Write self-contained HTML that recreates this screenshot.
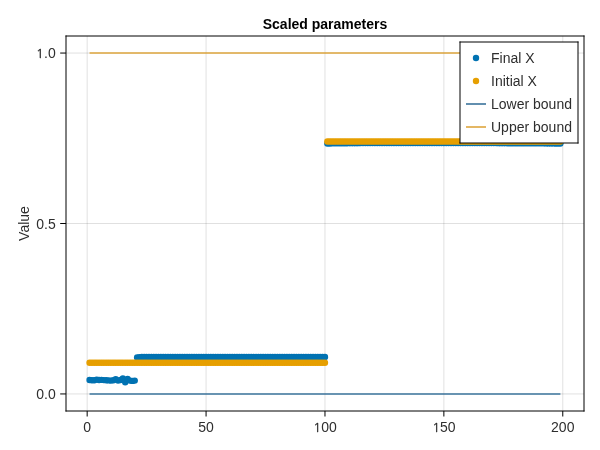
<!DOCTYPE html>
<html><head><meta charset="utf-8"><title>Scaled parameters</title>
<style>html,body{margin:0;padding:0;background:#fff;}svg{display:block;will-change:transform;}</style>
</head><body>
<svg width="600" height="450" viewBox="0 0 600 450">
<rect width="600" height="450" fill="#fff"/>
<g stroke="#000" stroke-opacity="0.12" stroke-width="1"><line x1="87.17" y1="36" x2="87.17" y2="411"/><line x1="206.07" y1="36" x2="206.07" y2="411"/><line x1="324.97" y1="36" x2="324.97" y2="411"/><line x1="443.87" y1="36" x2="443.87" y2="411"/><line x1="562.77" y1="36" x2="562.77" y2="411"/><line x1="66" y1="393.95" x2="584" y2="393.95"/><line x1="66" y1="223.50" x2="584" y2="223.50"/><line x1="66" y1="53.05" x2="584" y2="53.05"/></g>
<line x1="89.55" y1="393.95" x2="560.39" y2="393.95" stroke="#3b749c" stroke-width="1.6"/><line x1="89.55" y1="53.05" x2="560.39" y2="53.05" stroke="#dea63e" stroke-width="1.6"/>
<g fill="#0072B2"><circle cx="89.55" cy="380.00" r="3.2"/><circle cx="91.93" cy="380.20" r="3.2"/><circle cx="94.30" cy="380.30" r="3.2"/><circle cx="96.68" cy="379.60" r="3.2"/><circle cx="99.06" cy="380.00" r="3.2"/><circle cx="101.44" cy="379.90" r="3.2"/><circle cx="103.82" cy="380.10" r="3.2"/><circle cx="106.19" cy="380.30" r="3.2"/><circle cx="108.57" cy="380.40" r="3.2"/><circle cx="110.95" cy="380.60" r="3.2"/><circle cx="113.33" cy="380.20" r="3.2"/><circle cx="115.71" cy="379.30" r="3.2"/><circle cx="118.08" cy="380.60" r="3.2"/><circle cx="120.46" cy="380.00" r="3.2"/><circle cx="122.84" cy="378.50" r="3.2"/><circle cx="125.22" cy="382.20" r="3.2"/><circle cx="127.60" cy="379.00" r="3.2"/><circle cx="129.97" cy="380.60" r="3.2"/><circle cx="132.35" cy="380.90" r="3.2"/><circle cx="134.73" cy="380.60" r="3.2"/><circle cx="137.11" cy="357.40" r="3.2"/><circle cx="139.49" cy="357.10" r="3.2"/><circle cx="141.86" cy="356.90" r="3.2"/><circle cx="144.24" cy="356.90" r="3.2"/><circle cx="146.62" cy="356.90" r="3.2"/><circle cx="149.00" cy="356.90" r="3.2"/><circle cx="151.38" cy="356.90" r="3.2"/><circle cx="153.75" cy="356.90" r="3.2"/><circle cx="156.13" cy="356.90" r="3.2"/><circle cx="158.51" cy="356.90" r="3.2"/><circle cx="160.89" cy="356.90" r="3.2"/><circle cx="163.27" cy="356.90" r="3.2"/><circle cx="165.64" cy="356.90" r="3.2"/><circle cx="168.02" cy="356.90" r="3.2"/><circle cx="170.40" cy="356.90" r="3.2"/><circle cx="172.78" cy="356.90" r="3.2"/><circle cx="175.16" cy="356.90" r="3.2"/><circle cx="177.53" cy="356.90" r="3.2"/><circle cx="179.91" cy="356.90" r="3.2"/><circle cx="182.29" cy="356.90" r="3.2"/><circle cx="184.67" cy="356.90" r="3.2"/><circle cx="187.05" cy="356.90" r="3.2"/><circle cx="189.42" cy="356.90" r="3.2"/><circle cx="191.80" cy="356.90" r="3.2"/><circle cx="194.18" cy="356.90" r="3.2"/><circle cx="196.56" cy="356.90" r="3.2"/><circle cx="198.94" cy="356.90" r="3.2"/><circle cx="201.31" cy="356.90" r="3.2"/><circle cx="203.69" cy="356.90" r="3.2"/><circle cx="206.07" cy="356.90" r="3.2"/><circle cx="208.45" cy="356.90" r="3.2"/><circle cx="210.83" cy="356.90" r="3.2"/><circle cx="213.20" cy="356.90" r="3.2"/><circle cx="215.58" cy="356.90" r="3.2"/><circle cx="217.96" cy="356.90" r="3.2"/><circle cx="220.34" cy="356.90" r="3.2"/><circle cx="222.72" cy="356.90" r="3.2"/><circle cx="225.09" cy="356.90" r="3.2"/><circle cx="227.47" cy="356.90" r="3.2"/><circle cx="229.85" cy="356.90" r="3.2"/><circle cx="232.23" cy="356.90" r="3.2"/><circle cx="234.61" cy="356.90" r="3.2"/><circle cx="236.98" cy="356.90" r="3.2"/><circle cx="239.36" cy="356.90" r="3.2"/><circle cx="241.74" cy="356.90" r="3.2"/><circle cx="244.12" cy="356.90" r="3.2"/><circle cx="246.50" cy="356.90" r="3.2"/><circle cx="248.87" cy="356.90" r="3.2"/><circle cx="251.25" cy="356.90" r="3.2"/><circle cx="253.63" cy="356.90" r="3.2"/><circle cx="256.01" cy="356.90" r="3.2"/><circle cx="258.39" cy="356.90" r="3.2"/><circle cx="260.76" cy="356.90" r="3.2"/><circle cx="263.14" cy="356.90" r="3.2"/><circle cx="265.52" cy="356.90" r="3.2"/><circle cx="267.90" cy="356.90" r="3.2"/><circle cx="270.28" cy="356.90" r="3.2"/><circle cx="272.65" cy="356.90" r="3.2"/><circle cx="275.03" cy="356.90" r="3.2"/><circle cx="277.41" cy="356.90" r="3.2"/><circle cx="279.79" cy="356.90" r="3.2"/><circle cx="282.17" cy="356.90" r="3.2"/><circle cx="284.54" cy="356.90" r="3.2"/><circle cx="286.92" cy="356.90" r="3.2"/><circle cx="289.30" cy="356.90" r="3.2"/><circle cx="291.68" cy="356.90" r="3.2"/><circle cx="294.06" cy="356.90" r="3.2"/><circle cx="296.43" cy="356.90" r="3.2"/><circle cx="298.81" cy="356.90" r="3.2"/><circle cx="301.19" cy="356.90" r="3.2"/><circle cx="303.57" cy="356.90" r="3.2"/><circle cx="305.95" cy="356.90" r="3.2"/><circle cx="308.32" cy="356.90" r="3.2"/><circle cx="310.70" cy="356.90" r="3.2"/><circle cx="313.08" cy="356.90" r="3.2"/><circle cx="315.46" cy="356.90" r="3.2"/><circle cx="317.84" cy="356.90" r="3.2"/><circle cx="320.21" cy="356.90" r="3.2"/><circle cx="322.59" cy="356.90" r="3.2"/><circle cx="324.97" cy="356.90" r="3.2"/><circle cx="327.35" cy="143.50" r="3.2"/><circle cx="329.73" cy="143.43" r="3.2"/><circle cx="332.10" cy="143.37" r="3.2"/><circle cx="334.48" cy="143.32" r="3.2"/><circle cx="336.86" cy="143.28" r="3.2"/><circle cx="339.24" cy="143.25" r="3.2"/><circle cx="341.62" cy="143.22" r="3.2"/><circle cx="343.99" cy="143.20" r="3.2"/><circle cx="346.37" cy="143.18" r="3.2"/><circle cx="348.75" cy="143.17" r="3.2"/><circle cx="351.13" cy="143.15" r="3.2"/><circle cx="353.51" cy="143.14" r="3.2"/><circle cx="355.88" cy="143.14" r="3.2"/><circle cx="358.26" cy="143.13" r="3.2"/><circle cx="360.64" cy="143.12" r="3.2"/><circle cx="363.02" cy="143.12" r="3.2"/><circle cx="365.40" cy="143.12" r="3.2"/><circle cx="367.77" cy="143.11" r="3.2"/><circle cx="370.15" cy="143.11" r="3.2"/><circle cx="372.53" cy="143.11" r="3.2"/><circle cx="374.91" cy="143.11" r="3.2"/><circle cx="377.29" cy="143.11" r="3.2"/><circle cx="379.66" cy="143.10" r="3.2"/><circle cx="382.04" cy="143.10" r="3.2"/><circle cx="384.42" cy="143.10" r="3.2"/><circle cx="386.80" cy="143.10" r="3.2"/><circle cx="389.18" cy="143.10" r="3.2"/><circle cx="391.55" cy="143.10" r="3.2"/><circle cx="393.93" cy="143.10" r="3.2"/><circle cx="396.31" cy="143.10" r="3.2"/><circle cx="398.69" cy="143.10" r="3.2"/><circle cx="401.07" cy="143.10" r="3.2"/><circle cx="403.44" cy="143.10" r="3.2"/><circle cx="405.82" cy="143.10" r="3.2"/><circle cx="408.20" cy="143.10" r="3.2"/><circle cx="410.58" cy="143.10" r="3.2"/><circle cx="412.96" cy="143.10" r="3.2"/><circle cx="415.33" cy="143.10" r="3.2"/><circle cx="417.71" cy="143.10" r="3.2"/><circle cx="420.09" cy="143.10" r="3.2"/><circle cx="422.47" cy="143.10" r="3.2"/><circle cx="424.85" cy="143.10" r="3.2"/><circle cx="427.22" cy="143.10" r="3.2"/><circle cx="429.60" cy="143.10" r="3.2"/><circle cx="431.98" cy="143.10" r="3.2"/><circle cx="434.36" cy="143.10" r="3.2"/><circle cx="436.74" cy="143.10" r="3.2"/><circle cx="439.11" cy="143.10" r="3.2"/><circle cx="441.49" cy="143.10" r="3.2"/><circle cx="443.87" cy="143.10" r="3.2"/><circle cx="446.25" cy="143.10" r="3.2"/><circle cx="448.63" cy="143.10" r="3.2"/><circle cx="451.00" cy="143.10" r="3.2"/><circle cx="453.38" cy="143.10" r="3.2"/><circle cx="455.76" cy="143.10" r="3.2"/><circle cx="458.14" cy="143.10" r="3.2"/><circle cx="460.52" cy="143.10" r="3.2"/><circle cx="462.89" cy="143.10" r="3.2"/><circle cx="465.27" cy="143.10" r="3.2"/><circle cx="467.65" cy="143.10" r="3.2"/><circle cx="470.03" cy="143.10" r="3.2"/><circle cx="472.41" cy="143.10" r="3.2"/><circle cx="474.78" cy="143.10" r="3.2"/><circle cx="477.16" cy="143.10" r="3.2"/><circle cx="479.54" cy="143.10" r="3.2"/><circle cx="481.92" cy="143.10" r="3.2"/><circle cx="484.30" cy="143.10" r="3.2"/><circle cx="486.67" cy="143.10" r="3.2"/><circle cx="489.05" cy="143.10" r="3.2"/><circle cx="491.43" cy="143.10" r="3.2"/><circle cx="493.81" cy="143.11" r="3.2"/><circle cx="496.19" cy="143.12" r="3.2"/><circle cx="498.56" cy="143.14" r="3.2"/><circle cx="500.94" cy="143.15" r="3.2"/><circle cx="503.32" cy="143.16" r="3.2"/><circle cx="505.70" cy="143.17" r="3.2"/><circle cx="508.08" cy="143.18" r="3.2"/><circle cx="510.45" cy="143.20" r="3.2"/><circle cx="512.83" cy="143.21" r="3.2"/><circle cx="515.21" cy="143.22" r="3.2"/><circle cx="517.59" cy="143.23" r="3.2"/><circle cx="519.97" cy="143.24" r="3.2"/><circle cx="522.34" cy="143.26" r="3.2"/><circle cx="524.72" cy="143.27" r="3.2"/><circle cx="527.10" cy="143.28" r="3.2"/><circle cx="529.48" cy="143.29" r="3.2"/><circle cx="531.86" cy="143.31" r="3.2"/><circle cx="534.23" cy="143.32" r="3.2"/><circle cx="536.61" cy="143.33" r="3.2"/><circle cx="538.99" cy="143.34" r="3.2"/><circle cx="541.37" cy="143.35" r="3.2"/><circle cx="543.75" cy="143.37" r="3.2"/><circle cx="546.12" cy="143.38" r="3.2"/><circle cx="548.50" cy="143.39" r="3.2"/><circle cx="550.88" cy="143.40" r="3.2"/><circle cx="553.26" cy="143.41" r="3.2"/><circle cx="555.64" cy="143.43" r="3.2"/><circle cx="558.01" cy="143.44" r="3.2"/><circle cx="560.39" cy="143.45" r="3.2"/></g>
<g fill="#E69F00"><circle cx="89.55" cy="362.70" r="3.2"/><circle cx="91.93" cy="362.70" r="3.2"/><circle cx="94.30" cy="362.70" r="3.2"/><circle cx="96.68" cy="362.70" r="3.2"/><circle cx="99.06" cy="362.70" r="3.2"/><circle cx="101.44" cy="362.70" r="3.2"/><circle cx="103.82" cy="362.70" r="3.2"/><circle cx="106.19" cy="362.70" r="3.2"/><circle cx="108.57" cy="362.70" r="3.2"/><circle cx="110.95" cy="362.70" r="3.2"/><circle cx="113.33" cy="362.70" r="3.2"/><circle cx="115.71" cy="362.70" r="3.2"/><circle cx="118.08" cy="362.70" r="3.2"/><circle cx="120.46" cy="362.70" r="3.2"/><circle cx="122.84" cy="362.70" r="3.2"/><circle cx="125.22" cy="362.70" r="3.2"/><circle cx="127.60" cy="362.70" r="3.2"/><circle cx="129.97" cy="362.70" r="3.2"/><circle cx="132.35" cy="362.70" r="3.2"/><circle cx="134.73" cy="362.70" r="3.2"/><circle cx="137.11" cy="362.70" r="3.2"/><circle cx="139.49" cy="362.70" r="3.2"/><circle cx="141.86" cy="362.70" r="3.2"/><circle cx="144.24" cy="362.70" r="3.2"/><circle cx="146.62" cy="362.70" r="3.2"/><circle cx="149.00" cy="362.70" r="3.2"/><circle cx="151.38" cy="362.70" r="3.2"/><circle cx="153.75" cy="362.70" r="3.2"/><circle cx="156.13" cy="362.70" r="3.2"/><circle cx="158.51" cy="362.70" r="3.2"/><circle cx="160.89" cy="362.70" r="3.2"/><circle cx="163.27" cy="362.70" r="3.2"/><circle cx="165.64" cy="362.70" r="3.2"/><circle cx="168.02" cy="362.70" r="3.2"/><circle cx="170.40" cy="362.70" r="3.2"/><circle cx="172.78" cy="362.70" r="3.2"/><circle cx="175.16" cy="362.70" r="3.2"/><circle cx="177.53" cy="362.70" r="3.2"/><circle cx="179.91" cy="362.70" r="3.2"/><circle cx="182.29" cy="362.70" r="3.2"/><circle cx="184.67" cy="362.70" r="3.2"/><circle cx="187.05" cy="362.70" r="3.2"/><circle cx="189.42" cy="362.70" r="3.2"/><circle cx="191.80" cy="362.70" r="3.2"/><circle cx="194.18" cy="362.70" r="3.2"/><circle cx="196.56" cy="362.70" r="3.2"/><circle cx="198.94" cy="362.70" r="3.2"/><circle cx="201.31" cy="362.70" r="3.2"/><circle cx="203.69" cy="362.70" r="3.2"/><circle cx="206.07" cy="362.70" r="3.2"/><circle cx="208.45" cy="362.70" r="3.2"/><circle cx="210.83" cy="362.70" r="3.2"/><circle cx="213.20" cy="362.70" r="3.2"/><circle cx="215.58" cy="362.70" r="3.2"/><circle cx="217.96" cy="362.70" r="3.2"/><circle cx="220.34" cy="362.70" r="3.2"/><circle cx="222.72" cy="362.70" r="3.2"/><circle cx="225.09" cy="362.70" r="3.2"/><circle cx="227.47" cy="362.70" r="3.2"/><circle cx="229.85" cy="362.70" r="3.2"/><circle cx="232.23" cy="362.70" r="3.2"/><circle cx="234.61" cy="362.70" r="3.2"/><circle cx="236.98" cy="362.70" r="3.2"/><circle cx="239.36" cy="362.70" r="3.2"/><circle cx="241.74" cy="362.70" r="3.2"/><circle cx="244.12" cy="362.70" r="3.2"/><circle cx="246.50" cy="362.70" r="3.2"/><circle cx="248.87" cy="362.70" r="3.2"/><circle cx="251.25" cy="362.70" r="3.2"/><circle cx="253.63" cy="362.70" r="3.2"/><circle cx="256.01" cy="362.70" r="3.2"/><circle cx="258.39" cy="362.70" r="3.2"/><circle cx="260.76" cy="362.70" r="3.2"/><circle cx="263.14" cy="362.70" r="3.2"/><circle cx="265.52" cy="362.70" r="3.2"/><circle cx="267.90" cy="362.70" r="3.2"/><circle cx="270.28" cy="362.70" r="3.2"/><circle cx="272.65" cy="362.70" r="3.2"/><circle cx="275.03" cy="362.70" r="3.2"/><circle cx="277.41" cy="362.70" r="3.2"/><circle cx="279.79" cy="362.70" r="3.2"/><circle cx="282.17" cy="362.70" r="3.2"/><circle cx="284.54" cy="362.70" r="3.2"/><circle cx="286.92" cy="362.70" r="3.2"/><circle cx="289.30" cy="362.70" r="3.2"/><circle cx="291.68" cy="362.70" r="3.2"/><circle cx="294.06" cy="362.70" r="3.2"/><circle cx="296.43" cy="362.70" r="3.2"/><circle cx="298.81" cy="362.70" r="3.2"/><circle cx="301.19" cy="362.70" r="3.2"/><circle cx="303.57" cy="362.70" r="3.2"/><circle cx="305.95" cy="362.70" r="3.2"/><circle cx="308.32" cy="362.70" r="3.2"/><circle cx="310.70" cy="362.70" r="3.2"/><circle cx="313.08" cy="362.70" r="3.2"/><circle cx="315.46" cy="362.70" r="3.2"/><circle cx="317.84" cy="362.70" r="3.2"/><circle cx="320.21" cy="362.70" r="3.2"/><circle cx="322.59" cy="362.70" r="3.2"/><circle cx="324.97" cy="362.70" r="3.2"/><circle cx="327.35" cy="141.45" r="3.2"/><circle cx="329.73" cy="141.45" r="3.2"/><circle cx="332.10" cy="141.45" r="3.2"/><circle cx="334.48" cy="141.45" r="3.2"/><circle cx="336.86" cy="141.45" r="3.2"/><circle cx="339.24" cy="141.45" r="3.2"/><circle cx="341.62" cy="141.45" r="3.2"/><circle cx="343.99" cy="141.45" r="3.2"/><circle cx="346.37" cy="141.45" r="3.2"/><circle cx="348.75" cy="141.45" r="3.2"/><circle cx="351.13" cy="141.45" r="3.2"/><circle cx="353.51" cy="141.45" r="3.2"/><circle cx="355.88" cy="141.45" r="3.2"/><circle cx="358.26" cy="141.45" r="3.2"/><circle cx="360.64" cy="141.45" r="3.2"/><circle cx="363.02" cy="141.45" r="3.2"/><circle cx="365.40" cy="141.45" r="3.2"/><circle cx="367.77" cy="141.45" r="3.2"/><circle cx="370.15" cy="141.45" r="3.2"/><circle cx="372.53" cy="141.45" r="3.2"/><circle cx="374.91" cy="141.45" r="3.2"/><circle cx="377.29" cy="141.45" r="3.2"/><circle cx="379.66" cy="141.45" r="3.2"/><circle cx="382.04" cy="141.45" r="3.2"/><circle cx="384.42" cy="141.45" r="3.2"/><circle cx="386.80" cy="141.45" r="3.2"/><circle cx="389.18" cy="141.45" r="3.2"/><circle cx="391.55" cy="141.45" r="3.2"/><circle cx="393.93" cy="141.45" r="3.2"/><circle cx="396.31" cy="141.45" r="3.2"/><circle cx="398.69" cy="141.45" r="3.2"/><circle cx="401.07" cy="141.45" r="3.2"/><circle cx="403.44" cy="141.45" r="3.2"/><circle cx="405.82" cy="141.45" r="3.2"/><circle cx="408.20" cy="141.45" r="3.2"/><circle cx="410.58" cy="141.45" r="3.2"/><circle cx="412.96" cy="141.45" r="3.2"/><circle cx="415.33" cy="141.45" r="3.2"/><circle cx="417.71" cy="141.45" r="3.2"/><circle cx="420.09" cy="141.45" r="3.2"/><circle cx="422.47" cy="141.45" r="3.2"/><circle cx="424.85" cy="141.45" r="3.2"/><circle cx="427.22" cy="141.45" r="3.2"/><circle cx="429.60" cy="141.45" r="3.2"/><circle cx="431.98" cy="141.45" r="3.2"/><circle cx="434.36" cy="141.45" r="3.2"/><circle cx="436.74" cy="141.45" r="3.2"/><circle cx="439.11" cy="141.45" r="3.2"/><circle cx="441.49" cy="141.45" r="3.2"/><circle cx="443.87" cy="141.45" r="3.2"/><circle cx="446.25" cy="141.45" r="3.2"/><circle cx="448.63" cy="141.45" r="3.2"/><circle cx="451.00" cy="141.45" r="3.2"/><circle cx="453.38" cy="141.45" r="3.2"/><circle cx="455.76" cy="141.45" r="3.2"/><circle cx="458.14" cy="141.45" r="3.2"/><circle cx="460.52" cy="141.45" r="3.2"/><circle cx="462.89" cy="141.45" r="3.2"/><circle cx="465.27" cy="141.45" r="3.2"/><circle cx="467.65" cy="141.45" r="3.2"/><circle cx="470.03" cy="141.45" r="3.2"/><circle cx="472.41" cy="141.45" r="3.2"/><circle cx="474.78" cy="141.45" r="3.2"/><circle cx="477.16" cy="141.45" r="3.2"/><circle cx="479.54" cy="141.45" r="3.2"/><circle cx="481.92" cy="141.45" r="3.2"/><circle cx="484.30" cy="141.45" r="3.2"/><circle cx="486.67" cy="141.45" r="3.2"/><circle cx="489.05" cy="141.45" r="3.2"/><circle cx="491.43" cy="141.45" r="3.2"/><circle cx="493.81" cy="141.45" r="3.2"/><circle cx="496.19" cy="141.45" r="3.2"/><circle cx="498.56" cy="141.45" r="3.2"/><circle cx="500.94" cy="141.45" r="3.2"/><circle cx="503.32" cy="141.45" r="3.2"/><circle cx="505.70" cy="141.45" r="3.2"/><circle cx="508.08" cy="141.45" r="3.2"/><circle cx="510.45" cy="141.45" r="3.2"/><circle cx="512.83" cy="141.45" r="3.2"/><circle cx="515.21" cy="141.45" r="3.2"/><circle cx="517.59" cy="141.45" r="3.2"/><circle cx="519.97" cy="141.45" r="3.2"/><circle cx="522.34" cy="141.45" r="3.2"/><circle cx="524.72" cy="141.45" r="3.2"/><circle cx="527.10" cy="141.45" r="3.2"/><circle cx="529.48" cy="141.45" r="3.2"/><circle cx="531.86" cy="141.45" r="3.2"/><circle cx="534.23" cy="141.45" r="3.2"/><circle cx="536.61" cy="141.45" r="3.2"/><circle cx="538.99" cy="141.45" r="3.2"/><circle cx="541.37" cy="141.45" r="3.2"/><circle cx="543.75" cy="141.45" r="3.2"/><circle cx="546.12" cy="141.45" r="3.2"/><circle cx="548.50" cy="141.45" r="3.2"/><circle cx="550.88" cy="141.45" r="3.2"/><circle cx="553.26" cy="141.45" r="3.2"/><circle cx="555.64" cy="141.45" r="3.2"/><circle cx="558.01" cy="141.45" r="3.2"/><circle cx="560.39" cy="141.45" r="3.2"/></g>
<g stroke="#000" stroke-width="1"><line x1="65.5" y1="36" x2="584.5" y2="36"/><line x1="65.5" y1="411" x2="584.5" y2="411"/><line x1="66" y1="35.5" x2="66" y2="411.5"/><line x1="584" y1="35.5" x2="584" y2="411.5"/></g>
<g stroke="#000" stroke-width="1"><line x1="87.17" y1="411" x2="87.17" y2="416.5"/><line x1="206.07" y1="411" x2="206.07" y2="416.5"/><line x1="324.97" y1="411" x2="324.97" y2="416.5"/><line x1="443.87" y1="411" x2="443.87" y2="416.5"/><line x1="562.77" y1="411" x2="562.77" y2="416.5"/><line x1="60.2" y1="393.95" x2="66" y2="393.95"/><line x1="60.2" y1="223.50" x2="66" y2="223.50"/><line x1="60.2" y1="53.05" x2="66" y2="53.05"/></g>
<g font-family="'Liberation Sans', Arial, sans-serif" font-size="14" fill="#2e2e2e"><text x="87.17" y="432.2" text-anchor="middle">0</text><text x="206.07" y="432.2" text-anchor="middle">50</text><text x="324.97" y="432.2" text-anchor="middle"><tspan font-size="13" stroke="#2e2e2e" stroke-width="0.35" font-family="'NanumGothic', 'Liberation Sans', sans-serif">1</tspan>00</text><text x="443.87" y="432.2" text-anchor="middle"><tspan font-size="13" stroke="#2e2e2e" stroke-width="0.35" font-family="'NanumGothic', 'Liberation Sans', sans-serif">1</tspan>50</text><text x="562.77" y="432.2" text-anchor="middle">200</text><text x="55.7" y="398.95" text-anchor="end">0.0</text><text x="55.7" y="228.50" text-anchor="end">0.5</text><text x="55.7" y="58.05" text-anchor="end"><tspan font-size="13" stroke="#2e2e2e" stroke-width="0.35" font-family="'NanumGothic', 'Liberation Sans', sans-serif">1</tspan>.0</text><text transform="translate(29.3,223.5) rotate(-90)" text-anchor="middle">Value</text><text x="325" y="28.6" text-anchor="middle" font-weight="bold" fill="#000">Scaled parameters</text></g>
<rect x="460" y="42" width="118" height="101" fill="#fff"/><g stroke="#000" stroke-width="1"><line x1="459.5" y1="42" x2="578.5" y2="42"/><line x1="459.5" y1="143" x2="578.5" y2="143"/><line x1="460" y1="41.5" x2="460" y2="143.5"/><line x1="578" y1="41.5" x2="578" y2="143.5"/></g><circle cx="476" cy="58" r="3.2" fill="#0072B2"/><circle cx="476" cy="81" r="3.2" fill="#E69F00"/><line x1="466" y1="104" x2="486" y2="104" stroke="#3b749c" stroke-width="1.6"/><line x1="466" y1="127" x2="486" y2="127" stroke="#dea63e" stroke-width="1.6"/><g font-family="'Liberation Sans', Arial, sans-serif" font-size="14" fill="#2e2e2e"><text x="491" y="63.0">Final X</text><text x="491" y="86.0">Initial X</text><text x="491" y="109.0">Lower bound</text><text x="491" y="132.0">Upper bound</text></g>
</svg>
</body></html>
